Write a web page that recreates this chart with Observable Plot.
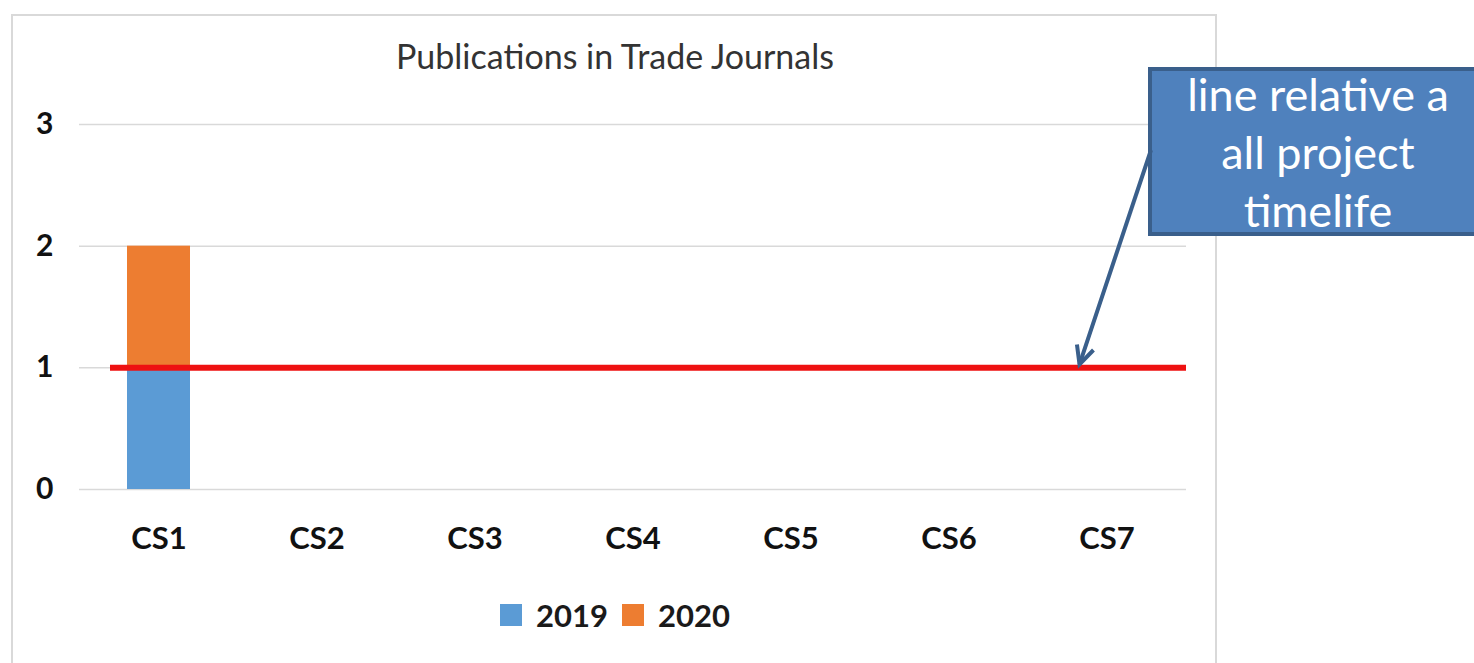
<!DOCTYPE html>
<html>
<head>
<meta charset="utf-8">
<script src="https://cdn.jsdelivr.net/npm/d3@7"></script>
<script src="https://cdn.jsdelivr.net/npm/@observablehq/plot@0.6"></script>
<style>
  html, body { margin: 0; padding: 0; background: #fff; }
  #wrap { position: relative; width: 1474px; height: 663px; overflow: hidden; font-family: Lato, "Open Sans", sans-serif; }
  #frame { position: absolute; left: 11px; top: 14px; width: 1206px; height: 680px; border: 2px solid #d9d9d9; box-sizing: border-box; }
  #chart { position: absolute; left: 0; top: 0; }
  #title { position: absolute; left: 315px; width: 600px; top: 35px; text-align: center; font-size: 34px; color: #333; white-space: nowrap; }
  #legend { position: absolute; left: 315px; width: 600px; top: 596px; text-align: center; font-size: 31px; font-weight: bold; color: #1a1a1a; display: flex; justify-content: center; align-items: center; gap: 14px; }
  #legend .sw { display: inline-block; width: 22px; height: 22px; }
  #legend .item { display: flex; align-items: center; gap: 14px; }
  #callout { position: absolute; left: 1148px; top: 67px; width: 340px; height: 169px; background: #4f81bd; border: 4px solid #3a5f8b; box-sizing: border-box; color: #fff; font-size: 45px; line-height: 58px; }
  #callout .inner { position: relative; top: -6px; }
  #callout .inner div { width: 332px; text-align: center; white-space: nowrap; }
  #arrow { position: absolute; left: 0; top: 0; }
</style>
</head>
<body>
<div id="wrap">
  <div id="frame"></div>
  <div id="chart"></div>
  <div id="title"></div>
  <div id="legend"></div>
  <div id="callout"><div class="inner"></div></div>
  <svg id="arrow" width="1474" height="663"></svg>
</div>
<script>
// ---- data ----
const categories = ["CS1", "CS2", "CS3", "CS4", "CS5", "CS6", "CS7"];
const years = ["2019", "2020"];
const values2019 = [1, 0, 0, 0, 0, 0, 0];
const values2020 = [1, 0, 0, 0, 0, 0, 0];
const yTicks = [0, 1, 2, 3];
const targetValue = 1;
const titleText = "Publications in Trade Journals";
const calloutLines = ["line relative a", "all project", "timelife"];
const colors = ["#5b9bd5", "#ed7d31"];

const rows = [];
categories.forEach((c, i) => {
  rows.push({cat: c, year: "2019", value: values2019[i]});
  rows.push({cat: c, year: "2020", value: values2020[i]});
});

const plot = Plot.plot({
  width: 1474,
  height: 663,
  marginTop: 124,
  marginBottom: 174,
  marginLeft: 79,
  marginRight: 288,
  style: {background: "transparent", fontFamily: "Lato, 'Open Sans', sans-serif", color: "#111"},
  x: {domain: categories, paddingInner: 0.6, paddingOuter: 0.3, label: null},
  y: {domain: [0, 3], label: null},
  color: {domain: years, range: colors},
  marks: [
    Plot.gridY(yTicks, {stroke: "#d9d9d9", strokeOpacity: 1, strokeWidth: 1.5}),
    Plot.axisY(yTicks, {tickSize: 0, tickPadding: 26, fontSize: 30, fontWeight: "bold", label: null, tickFormat: d => String(d)}),
    Plot.axisX({tickSize: 0, tickPadding: 37, fontSize: 31, fontWeight: "bold", label: null}),
    Plot.barY(rows, Plot.stackY({x: "cat", y: "value", fill: "year", order: years})),
    Plot.ruleY([targetValue], {stroke: "#ee1111", strokeWidth: 6, insetLeft: 31})
  ]
});
document.getElementById("chart").appendChild(plot);

document.getElementById("title").textContent = titleText;

const legend = document.getElementById("legend");
const cs = plot.scale("color");
cs.domain.forEach((d, i) => {
  const item = document.createElement("span");
  item.className = "item";
  const sw = document.createElement("span");
  sw.className = "sw";
  sw.style.background = cs.range[i];
  const t = document.createElement("span");
  t.textContent = d;
  item.appendChild(sw);
  item.appendChild(t);
  legend.appendChild(item);
});

const inner = document.querySelector("#callout .inner");
calloutLines.forEach(l => {
  const d = document.createElement("div");
  d.textContent = l;
  inner.appendChild(d);
});

// annotation arrow from callout to the target line
const ys = plot.scale("y");
const xs = plot.scale("x");
const tipX = xs.apply("CS7") + xs.bandwidth / 2 - 27;
const tipY = ys.apply(targetValue) - 3;
const startX = 1151, startY = 150;
const svg = d3.select("#arrow");
svg.append("line").attr("x1", startX).attr("y1", startY).attr("x2", tipX).attr("y2", tipY)
  .attr("stroke", "#3a5f8b").attr("stroke-width", 4);
const ang = Math.atan2(tipY - startY, tipX - startX);
const L = 20, a = 0.45;
const p1 = [tipX - L * Math.cos(ang - a), tipY - L * Math.sin(ang - a)];
const p2 = [tipX - L * Math.cos(ang + a), tipY - L * Math.sin(ang + a)];
svg.append("path").attr("d", `M${p1[0]},${p1[1]}L${tipX},${tipY}L${p2[0]},${p2[1]}`)
  .attr("fill", "none").attr("stroke", "#3a5f8b").attr("stroke-width", 4);
</script>
</body>
</html>
